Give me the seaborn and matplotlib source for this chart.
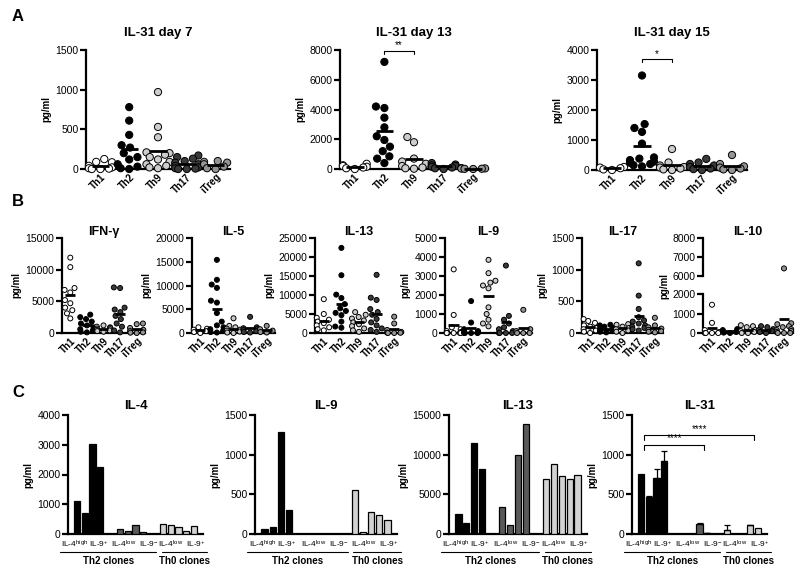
import warnings
warnings.filterwarnings('ignore')
import numpy as np
import pandas as pd
import matplotlib
matplotlib.use('Agg')
import matplotlib.pyplot as plt
import seaborn as sns
from matplotlib.patches import Rectangle

sns.set_theme(style='ticks')
plt.rcParams['font.family'] = ['Liberation Sans', 'DejaVu Sans']
plt.rcParams['mathtext.fontset'] = 'custom'
plt.rcParams['mathtext.rm'] = 'Liberation Sans'
plt.rcParams['mathtext.bf'] = 'Liberation Sans:bold'
plt.rcParams['mathtext.it'] = 'Liberation Sans:italic'
plt.rcParams['text.color'] = 'black'
plt.rcParams['axes.labelcolor'] = 'black'
plt.rcParams['axes.edgecolor'] = 'black'
plt.rcParams['xtick.color'] = 'black'
plt.rcParams['ytick.color'] = 'black'

# ---------------- data ----------------
subsets = ['Th1', 'Th2', 'Th9', 'Th17', 'iTreg']
subset_colors = ['#ffffff', '#000000', '#cdcdcd', '#3a3a3a', '#959595']

# Panel A: IL-31 (pg/ml) per subset [Th1, Th2, Th9, Th17, iTreg]
il31_d7 = [[125, 90, 85, 40, 20, 10, 5, 0, 0],
           [780, 610, 430, 300, 270, 200, 150, 120, 60, 30, 10, 0],
           [970, 530, 400, 210, 200, 180, 150, 120, 90, 60, 40, 20, 10],
           [170, 150, 130, 100, 80, 60, 40, 20, 10, 5, 0, 0],
           [100, 90, 80, 60, 30, 10, 0]]
il31_d13 = [[350, 250, 200, 150, 100, 50, 0],
            [7200, 4200, 4100, 3450, 2800, 2200, 1950, 1500, 1200, 850, 700, 400],
            [2150, 1800, 700, 500, 350, 200, 100, 50, 20],
            [400, 300, 250, 200, 150, 100, 50, 0],
            [60, 40, 30, 20, 10, 0]]
il31_d15 = [[100, 80, 60, 20, 0],
            [3150, 1530, 1400, 1270, 880, 420, 380, 330, 280, 240, 200, 160, 120],
            [700, 250, 150, 100, 80, 50, 20, 0],
            [370, 250, 200, 150, 100, 50, 30, 0],
            [500, 200, 120, 80, 50, 20, 0]]

# Panel B: cytokines per subset
ifng = [[11900, 10400, 7100, 6800, 6400, 5200, 4700, 4000, 3600, 3100, 2300],
        [2900, 2500, 2200, 1800, 1500, 1200, 900, 600, 400, 200, 100],
        [1200, 1000, 900, 800, 700, 600, 500, 400, 300, 200],
        [7200, 7100, 4000, 3700, 3300, 2700, 2200, 1500, 1000, 400, 100],
        [1500, 1400, 800, 500, 300, 100, 50, 0]]
il5 = [[1200, 900, 700, 400, 200, 0],
       [15400, 11200, 10200, 9500, 6800, 6400, 4200, 2400, 1600, 1200, 800, 400, 200, 100],
       [3100, 1500, 1200, 900, 700, 500, 300, 100, 0],
       [3400, 1200, 1000, 800, 600, 400, 200, 100],
       [1500, 800, 500, 200, 100]]
il13 = [[8900, 5000, 4000, 3500, 3000, 2600, 2000, 1500, 1000, 700],
        [22400, 15200, 10100, 9200, 7600, 6500, 5800, 5300, 4700, 3000, 1700, 1400],
        [5500, 4800, 4200, 3800, 3300, 2800, 2300, 1800, 1200, 700, 300],
        [15300, 9300, 8700, 6300, 5500, 4800, 3700, 2800, 2000, 1200, 800, 300],
        [4300, 2500, 800, 300, 100, 50, 0, 0]]
il9 = [[3350, 950, 300, 200, 100, 50, 0, 0, 0, 0, 0, 0],
       [1680, 550, 200, 100, 50, 20, 0, 0, 0, 0],
       [3850, 3150, 2750, 2650, 2500, 2350, 1350, 1000, 700, 500, 350],
       [3550, 900, 700, 500, 300, 200, 100, 0, 0, 0, 0],
       [1220, 200, 100, 0, 0, 0]]
il17 = [[220, 190, 160, 120, 100, 80, 60, 40, 20, 0],
        [130, 120, 100, 80, 60, 40, 20, 10],
        [140, 130, 100, 80, 60, 40, 20, 0],
        [1100, 590, 380, 250, 200, 180, 150, 120, 100, 80, 60, 40],
        [240, 120, 90, 70, 50, 30, 20, 10]]
il10 = [[1450, 520, 150, 50, 0, 0, 0, 0],
        [200, 150, 100, 80, 50, 20, 0],
        [400, 350, 300, 150, 100, 50, 0, 0],
        [350, 300, 200, 150, 100, 50, 0],
        [6400, 500, 450, 350, 300, 200, 150, 100, 50, 0, 0, 0]]

# Panel C: clones (pg/ml): Th2 IL-4high IL-9+, Th2 IL-4low IL-9-, Th0 IL-4low IL-9+
clone_groups = ['Th2 IL-4high IL-9+', 'Th2 IL-4low IL-9-', 'Th0 IL-4low IL-9+']
clone_colors = ['#000000', '#5a5a5a', '#d2d2d2']
clone_labels = [r'IL-4$^{\mathrm{high}}$ IL-9$^{+}$',
                r'IL-4$^{\mathrm{low}}$  IL-9$^{-}$',
                r'IL-4$^{\mathrm{low}}$  IL-9$^{+}$']
c_il4 = [[1125, 690, 3040, 2250], [180, 90, 290, 70], [330, 310, 245, 90, 270]]
c_il9 = [[63, 92, 1287, 297], [0, 0, 5, 0], [560, 29, 276, 238, 175]]
c_il13 = [[2465, 1337, 11450, 8190], [3427, 1170, 9946, 13832], [6979, 8860, 7355, 6979, 7438]]
c_il31 = [[752, 464, 706, 915], [2, 5, 125, 12], [50, 2, 2, 113, 71]]
c_il31_sem = [[0, 16, 117, 134], [0, 0, 10, 3], [58, 0, 0, 6, 0]]

# ---------------- figure ----------------
W, H = 800, 574
fig = plt.figure(figsize=(W / 100, H / 100), dpi=100)


def px_axes(l, t, r, b):
    return fig.add_axes([l / W, 1 - b / H, (r - l) / W, (b - t) / H])


def style(ax, yticks, ymin, ymax, show_bottom=True):
    sns.despine(ax=ax)
    ax.spines['left'].set_linewidth(1.6)
    ax.spines['bottom'].set_linewidth(1.6)
    if not show_bottom:
        ax.spines['bottom'].set_visible(False)
    ax.set_ylim(ymin, ymax)
    ax.set_yticks(yticks)
    ax.set_yticklabels([str(t) for t in yticks])
    ax.tick_params(axis='y', length=4, width=1.6, labelsize=7.5, pad=1.5, colors='black')
    ax.tick_params(axis='x', length=0, labelsize=7, pad=2, colors='black')
    ax.set_xlabel('')
    ax.set_facecolor('white')


def unclip(ax):
    rect = Rectangle((-0.05, -0.12), 1.1, 1.24, transform=ax.transAxes)
    for c in ax.collections:
        c.set_clip_path(rect)


def scatter_panel(ax, groups, size):
    df = pd.DataFrame({'subset': np.repeat(subsets, [len(g) for g in groups]),
                       'value': np.concatenate([np.asarray(g, float) for g in groups])})
    sns.swarmplot(data=df, x='subset', y='value', hue='subset', order=subsets,
                  hue_order=subsets, palette=dict(zip(subsets, subset_colors)),
                  size=size, edgecolor='black', linewidth=0.7, legend=False,
                  ax=ax, warn_thresh=1)
    means = df.groupby('subset')['value'].mean().reindex(subsets).values
    idx = np.arange(len(subsets))
    ax.hlines(means, idx - 0.3, idx + 0.3, color='black', lw=2, zorder=6)
    ax.set_xlim(-0.5, len(subsets) - 0.5)
    return df


def finish_scatter(ax, title, pad, yticks, ymin, ymax, tsize=9, ylabel=True):
    style(ax, yticks, ymin, ymax)
    ax.set_xticks(range(len(subsets)))
    ax.set_xticklabels(subsets, rotation=45, ha='right', rotation_mode='anchor',
                       fontweight='bold', fontsize=7)
    ax.set_title(title, fontsize=tsize, fontweight='bold', pad=pad, color='black')
    if ylabel:
        ax.set_ylabel('pg/ml', fontsize=7, fontweight='bold', labelpad=3)
    else:
        ax.set_ylabel('')
    unclip(ax)


def bracket(ax, x1, x2, y, h, text):
    ax.plot([x1, x1, x2, x2], [y - h, y, y, y - h], color='black', lw=0.8,
            clip_on=False, zorder=7)
    ax.text((x1 + x2) / 2, y + h * 0.25, text, ha='center', va='bottom',
            fontsize=7, clip_on=False)


# ---- Row A ----
a_specs = [((86, 50, 230, 169), il31_d7, 'IL-31 day 7', [0, 500, 1000, 1500], 1500),
           ((340, 50, 488, 169), il31_d13, 'IL-31 day 13', [0, 2000, 4000, 6000, 8000], 8000),
           ((597, 50, 747, 170), il31_d15, 'IL-31 day 15', [0, 1000, 2000, 3000, 4000], 4000)]
a_axes = []
for rect, data, title, ticks, ymax in a_specs:
    ax = px_axes(*rect)
    scatter_panel(ax, data, 5.2)
    finish_scatter(ax, title, 10, ticks, 0, ymax, tsize=9.5)
    a_axes.append(ax)
bracket(a_axes[1], 1, 2, 7950, 200, '**')
bracket(a_axes[2], 1, 2, 3690, 90, '*')

# ---- Row B ----
b_specs = [((62, 238, 145, 333), ifng, 'IFN-γ', [0, 5000, 10000, 15000], 15000),
           ((192, 238, 275, 333), il5, 'IL-5', [0, 5000, 10000, 15000, 20000], 20000),
           ((315, 238, 403, 333), il13, 'IL-13', [0, 5000, 10000, 15000, 20000, 25000], 25000),
           ((445, 238, 532, 333), il9, 'IL-9', [0, 1000, 2000, 3000, 4000, 5000], 5000),
           ((582, 238, 663, 333), il17, 'IL-17', [0, 500, 1000, 1500], 1500)]
for rect, data, title, ticks, ymax in b_specs:
    ax = px_axes(*rect)
    scatter_panel(ax, data, 3.6)
    finish_scatter(ax, title, 2, ticks, 0, ymax)

# IL-10 with broken axis
ax_up = px_axes(703, 238, 793, 276)
ax_lo = px_axes(703, 294, 793, 333)
scatter_panel(ax_up, il10, 3.6)
scatter_panel(ax_lo, il10, 3.6)
finish_scatter(ax_lo, '', 2, [0, 1000, 2000], 0, 2000)
style(ax_up, [6000, 7000, 8000], 6000, 8000, show_bottom=False)
ax_up.set_xticks([])
ax_up.set_ylabel('')
ax_up.set_title('IL-10', fontsize=9, fontweight='bold', pad=2, color='black')
unclip(ax_up)
ax_lo.yaxis.set_label_coords(-0.37, 1.2)

# ---- Row C ----
group_offsets = [0.0, 5.6, 11.2]


def bar_panel(rect, groups, title, ticks, ymax, sem=None):
    ax = px_axes(*rect)
    pos, vals, grp = [], [], []
    for gi, g in enumerate(groups):
        for i, v in enumerate(g):
            pos.append(group_offsets[gi] + i)
            vals.append(v)
            grp.append(clone_groups[gi])
    df = pd.DataFrame({'pos': pos, 'value': vals, 'group': grp})
    sns.barplot(data=df, x='pos', y='value', hue='group', hue_order=clone_groups,
                palette=dict(zip(clone_groups, clone_colors)), native_scale=True,
                dodge=False, width=0.8, edgecolor='black', linewidth=0.9,
                errorbar=None, legend=False, ax=ax, zorder=3)
    if sem is not None:
        err = np.concatenate([np.asarray(s, float) for s in sem])
        m = err > 0
        p = np.asarray(pos)[m]
        v = np.asarray(vals, float)[m]
        e = err[m]
        ax.errorbar(p, v, yerr=[np.zeros_like(e), e], fmt='none', ecolor='black',
                    elinewidth=0.9, capsize=2, capthick=0.9, zorder=4)
    style(ax, ticks, 0, ymax)
    ax.set_xlim(-1.2, 16.4)
    centers = [group_offsets[gi] + (len(g) - 1) / 2 for gi, g in enumerate(groups)]
    ax.set_xticks([centers[0] - 0.5, centers[1] + 0.4, centers[2] + 0.4])
    ax.set_xticklabels(clone_labels, fontsize=6)
    ax.tick_params(axis='x', pad=3.5)
    ax.set_title(title, fontsize=9.5, fontweight='bold', pad=4, color='black')
    ax.set_ylabel('pg/ml', fontsize=7, fontweight='bold', labelpad=3)
    trans = ax.get_xaxis_transform()
    th2_l = group_offsets[0] - 2.2
    th2_r = group_offsets[1] + len(groups[1]) - 1 + 1.7
    th0_l = group_offsets[2] - 0.2
    th0_r = group_offsets[2] + len(groups[2]) - 1 + 1.7
    ly = -18 / 119
    ty = -26.5 / 119
    ax.plot([th2_l, th2_r], [ly, ly], color='black', lw=0.8, transform=trans, clip_on=False)
    ax.plot([th0_l, th0_r], [ly, ly], color='black', lw=0.8, transform=trans, clip_on=False)
    ax.text((th2_l + th2_r) / 2, ty, 'Th2 clones', transform=trans, ha='center',
            va='center', fontsize=7, fontweight='bold')
    ax.text((th0_l + th0_r) / 2, ty, 'Th0 clones', transform=trans, ha='center',
            va='center', fontsize=7, fontweight='bold')
    return ax


bar_panel((68, 415, 203, 534), c_il4, 'IL-4', [0, 1000, 2000, 3000, 4000], 4000)
bar_panel((255, 415, 397, 534), c_il9, 'IL-9', [0, 500, 1000, 1500], 1500)
bar_panel((449, 415, 587, 534), c_il13, 'IL-13', [0, 5000, 10000, 15000], 15000)
ax31 = bar_panel((632, 415, 767, 534), c_il31, 'IL-31', [0, 500, 1000, 1500], 1500, sem=c_il31_sem)
bracket(ax31, group_offsets[0] + 0.4, group_offsets[1] + 2.6, 1125, 60, '****')
bracket(ax31, group_offsets[0] + 0.4, group_offsets[2] + 3.5, 1250, 60, '****')

# panel letters
for letter, y in [('A', 9), ('B', 194), ('C', 385)]:
    fig.text(12 / W, 1 - y / H, letter, fontsize=12, fontweight='bold', va='top', ha='left')

fig.savefig('out.png', dpi=100, facecolor='white')
